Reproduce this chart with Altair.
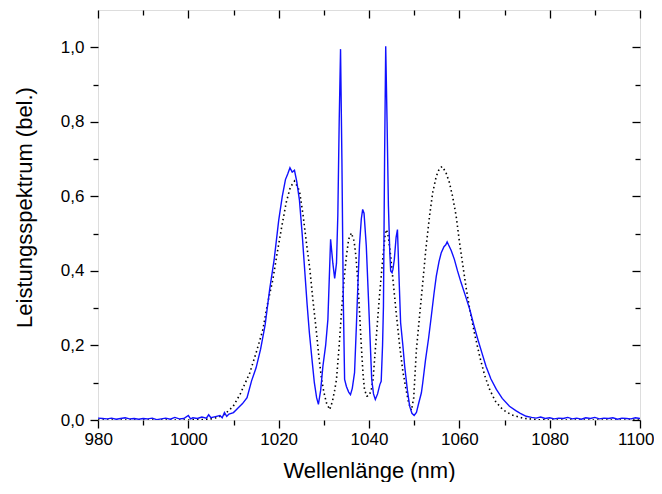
import altair as alt
import pandas as pd

# Measured spectrum (blue): [wavelength nm, power]
meas_pts = [
    [980, 0.005], [981, 0.004], [982, 0.003], [983, 0.005], [984, 0.002], [985, 0.004],
    [986, 0.006], [987, 0.003], [988, 0.004], [989, 0.002], [990, 0.004], [991, 0.003],
    [992, 0.005], [993, 0.001], [994, 0.003], [995, 0.005], [996, 0.002], [997, 0.007],
    [998, 0.003], [999, 0.004], [1000, 0.012], [1000.5, 0.003], [1001, 0.006],
    [1002, 0.004], [1003, 0.008], [1004, 0.005], [1004.5, 0.014], [1005, 0.006],
    [1006, 0.009], [1007, 0.012], [1007.5, 0.006], [1008, 0.020], [1008.5, 0.010],
    [1009, 0.016], [1010, 0.020], [1011, 0.032], [1012, 0.044], [1013, 0.060],
    [1014, 0.105], [1015, 0.140], [1016, 0.190], [1017, 0.255], [1018, 0.350],
    [1019, 0.430], [1020, 0.535], [1020.8, 0.600], [1021.5, 0.645], [1022, 0.660],
    [1022.5, 0.677], [1023, 0.665], [1023.5, 0.670], [1024, 0.640], [1024.6, 0.590],
    [1025.2, 0.500], [1025.7, 0.413], [1026.3, 0.310], [1026.8, 0.234], [1027.4, 0.160],
    [1027.9, 0.100], [1028.4, 0.060], [1028.8, 0.042], [1029.3, 0.080], [1029.8, 0.145],
    [1030.4, 0.200], [1030.9, 0.270], [1031.5, 0.485], [1032.0, 0.420], [1032.4, 0.380],
    [1032.8, 0.420], [1033.1, 0.550], [1033.4, 0.800], [1033.7, 0.995], [1034.0, 0.700],
    [1034.3, 0.330], [1034.6, 0.109], [1035.0, 0.090], [1035.5, 0.075], [1035.9, 0.068],
    [1036.3, 0.085], [1036.8, 0.127], [1037.2, 0.250], [1037.5, 0.350], [1037.9, 0.470],
    [1038.3, 0.540], [1038.6, 0.565], [1038.9, 0.555], [1039.4, 0.467], [1040.1, 0.261],
    [1040.6, 0.109], [1041.0, 0.070], [1041.4, 0.055], [1041.9, 0.070], [1042.4, 0.095],
    [1042.7, 0.104], [1043.0, 0.200], [1043.2, 0.305], [1043.45, 0.700], [1043.7, 1.003],
    [1044.0, 0.800], [1044.3, 0.574], [1044.6, 0.450], [1044.8, 0.400], [1045.1, 0.395],
    [1045.3, 0.404], [1045.6, 0.430], [1046.0, 0.490], [1046.3, 0.511], [1046.6, 0.400],
    [1047.0, 0.261], [1047.5, 0.200], [1047.9, 0.144], [1048.5, 0.080], [1049.0, 0.037],
    [1049.5, 0.018], [1050.0, 0.012], [1050.5, 0.020], [1051.0, 0.045], [1051.6, 0.073],
    [1051.9, 0.100], [1052.5, 0.160], [1053.2, 0.220], [1053.8, 0.279], [1054.4, 0.340],
    [1054.9, 0.386], [1055.5, 0.425], [1056.0, 0.449], [1056.6, 0.465], [1057.0, 0.470],
    [1057.3, 0.478], [1057.6, 0.470], [1058.2, 0.455], [1058.9, 0.431], [1059.6, 0.400],
    [1060.4, 0.368], [1061.3, 0.335], [1062.3, 0.297], [1063.2, 0.255], [1064.1, 0.216],
    [1065.0, 0.180], [1065.9, 0.144], [1067.0, 0.110], [1068.2, 0.082], [1069.5, 0.058],
    [1071.1, 0.037], [1072.5, 0.025], [1073.5, 0.018], [1074.8, 0.010], [1076, 0.007],
    [1077, 0.005], [1078, 0.008], [1079, 0.004], [1080, 0.006], [1081, 0.003],
    [1082, 0.005], [1083, 0.004], [1084, 0.007], [1085, 0.003], [1086, 0.005],
    [1087, 0.002], [1088, 0.006], [1089, 0.004], [1090, 0.007], [1091, 0.003],
    [1092, 0.005], [1093, 0.004], [1094, 0.006], [1095, 0.002], [1096, 0.005],
    [1097, 0.004], [1098, 0.003], [1099, 0.006], [1100, 0.004],
]

# Simulated spectrum (dotted black): [wavelength nm, power]
sim_pts = [
    [980, 0.0], [990, 0.0], [1000, 0.0], [1003, 0.001], [1005, 0.003], [1006.5, 0.007],
    [1008, 0.015], [1009.9, 0.036], [1011.5, 0.070], [1013.6, 0.126], [1015, 0.180],
    [1016.5, 0.242], [1017.5, 0.310], [1018.7, 0.376], [1019.7, 0.450], [1020.7, 0.520],
    [1021.7, 0.585], [1022.6, 0.625], [1023.5, 0.641], [1024.6, 0.615], [1025.4, 0.550],
    [1026.2, 0.470], [1026.9, 0.405], [1027.6, 0.320], [1028.3, 0.243], [1028.9, 0.170],
    [1029.5, 0.110], [1030.0, 0.075], [1030.6, 0.045], [1031.3, 0.028], [1031.9, 0.050],
    [1032.4, 0.080], [1032.8, 0.109], [1033.4, 0.200], [1033.9, 0.288], [1034.5, 0.380],
    [1035.0, 0.440], [1035.5, 0.485], [1036.1, 0.502], [1036.7, 0.480], [1037.1, 0.440],
    [1037.5, 0.377], [1037.9, 0.290], [1038.3, 0.198], [1038.7, 0.120], [1039.0, 0.082],
    [1039.5, 0.064], [1040.0, 0.065], [1040.5, 0.080], [1040.9, 0.109], [1041.6, 0.220],
    [1042.3, 0.330], [1043.1, 0.440], [1043.6, 0.500], [1043.9, 0.511], [1044.3, 0.490],
    [1044.8, 0.440], [1045.3, 0.377], [1046.0, 0.290], [1046.8, 0.198], [1047.5, 0.130],
    [1048.2, 0.082], [1048.8, 0.045], [1049.4, 0.026], [1049.9, 0.060], [1050.5, 0.189],
    [1051.2, 0.280], [1051.9, 0.368], [1052.6, 0.460], [1053.4, 0.547], [1054.1, 0.610],
    [1054.9, 0.654], [1055.6, 0.675], [1056.2, 0.680], [1057.0, 0.665], [1057.8, 0.637],
    [1058.5, 0.600], [1059.3, 0.547], [1060.0, 0.480], [1060.8, 0.413], [1061.5, 0.355],
    [1062.3, 0.297], [1063.4, 0.230], [1064.5, 0.171], [1065.6, 0.120], [1066.7, 0.082],
    [1068.0, 0.050], [1069.6, 0.028], [1071.5, 0.014], [1074.0, 0.005], [1077, 0.001],
    [1080, 0.0], [1100, 0.0],
]

x_major = [980, 1000, 1020, 1040, 1060, 1080, 1100]
x_minor = [990, 1010, 1030, 1050, 1070, 1090]
y_major = [0.0, 0.2, 0.4, 0.6, 0.8, 1.0]
y_minor = [0.1, 0.3, 0.5, 0.7, 0.9]

x_title = "Wellenlänge (nm)"
y_title = "Leistungsspektrum (bel.)"

meas = pd.DataFrame(meas_pts, columns=["x", "y"])
sim = pd.DataFrame(sim_pts, columns=["x", "y"])

W, H = 542, 410
FONT = "Liberation Sans"
xscale = alt.Scale(domain=[980, 1100], nice=False, zero=False)
yscale = alt.Scale(domain=[0, 1.1], nice=False)

common = dict(domain=False, grid=False, tickColor="black", tickWidth=1.3)

x_main = alt.Axis(orient="bottom", values=x_major, tickSize=8, format="d",
                  labelFont=FONT, labelFontSize=17, labelColor="black", labelPadding=3,
                  labelFlush=True, labelFlushOffset=14, labelOverlap=False,
                  title=x_title, titleFont=FONT, titleFontSize=22, titleFontWeight="normal",
                  titleColor="black", titleY=57, titleBaseline="alphabetic", **common)
y_main = alt.Axis(orient="left", values=y_major, tickSize=8,
                  labelExpr="replace(format(datum.value, '.1f'), '.', ',')",
                  labelFont=FONT, labelFontSize=17, labelColor="black", labelPadding=6,
                  labelFlush=False, labelOverlap=False,
                  title=y_title, titleFont=FONT, titleFontSize=22, titleFontWeight="normal",
                  titleColor="black", titleX=-67, titleY=197, titleAngle=270,
                  titleBaseline="alphabetic", **common)
x_min = alt.Axis(orient="bottom", values=x_minor, tickSize=5, labels=False, title=None, **common)
y_min = alt.Axis(orient="left", values=y_minor, tickSize=5, labels=False, title=None, **common)
x_top = alt.Axis(orient="bottom", offset=-H, values=x_major, tickSize=8, labels=False,
                 title=None, **common)
y_right = alt.Axis(orient="left", offset=-W, values=y_major, tickSize=8, labels=False,
                   title=None, **common)
x_top_min = alt.Axis(orient="bottom", offset=-H, values=x_minor, tickSize=5, labels=False,
                     title=None, **common)
y_right_min = alt.Axis(orient="left", offset=-W, values=y_minor, tickSize=5, labels=False,
                       title=None, **common)

blue = alt.Chart(meas).mark_line(color="#1010ff", strokeWidth=1.4, clip=True).encode(
    x=alt.X("x:Q", scale=xscale, axis=x_main),
    y=alt.Y("y:Q", scale=yscale, axis=y_main),
)
dotted = alt.Chart(sim).mark_line(color="black", strokeWidth=1.6, strokeDash=[1.5, 3],
                                  clip=True).encode(
    x=alt.X("x:Q", scale=xscale, axis=x_min),
    y=alt.Y("y:Q", scale=yscale, axis=y_min),
)
ghost1 = alt.Chart(sim).mark_line(opacity=0).encode(
    x=alt.X("x:Q", scale=xscale, axis=x_top),
    y=alt.Y("y:Q", scale=yscale, axis=y_right),
)
ghost2 = alt.Chart(sim).mark_line(opacity=0).encode(
    x=alt.X("x:Q", scale=xscale, axis=x_top_min),
    y=alt.Y("y:Q", scale=yscale, axis=y_right_min),
)

chart = alt.layer(dotted, blue, ghost1, ghost2).resolve_axis(
    x="independent", y="independent"
).properties(
    width=W, height=H,
    autosize=alt.AutoSizeParams(type="none"),
    padding={"left": 90, "top": 2, "right": 14, "bottom": 62},
).configure_view(stroke="black", strokeWidth=1.5).configure(background="white")

chart.save("out.html", embed_options={"renderer": "svg", "actions": False})
